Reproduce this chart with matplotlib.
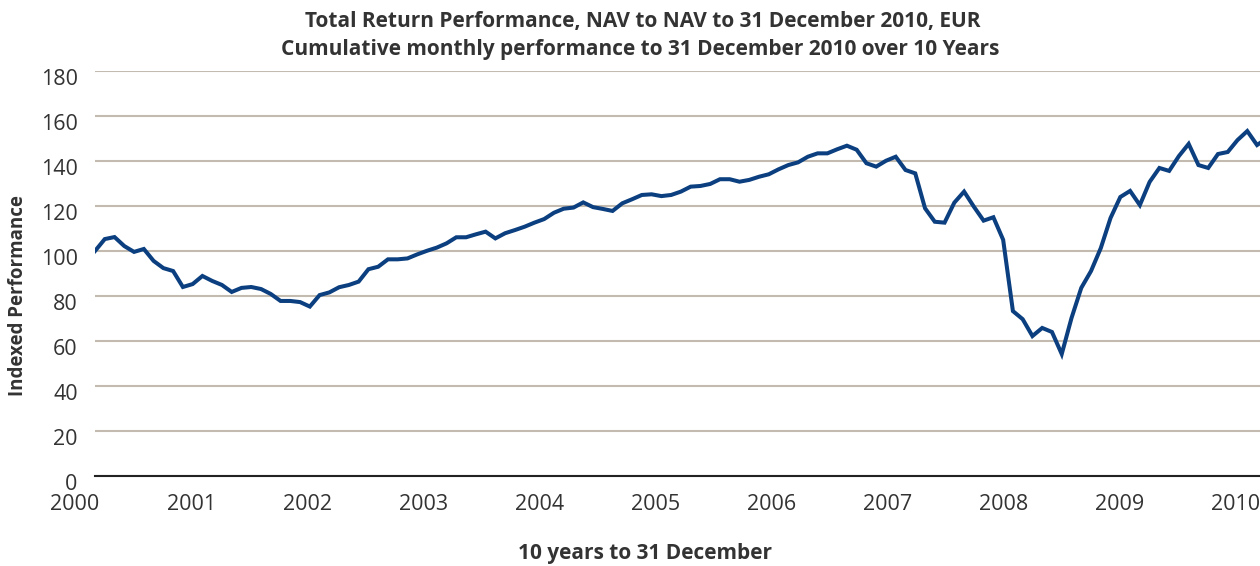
import numpy as np
import matplotlib
matplotlib.use('Agg')
import matplotlib.pyplot as plt
from matplotlib.transforms import ScaledTranslation, blended_transform_factory

plt.rcParams['font.family'] = ['Open Sans', 'DejaVu Sans']

# Monthly indexed NAV performance, Jan 2000 = 100
nav = [
    100.0, 105.3, 106.2, 102.2, 99.6, 100.9, 95.6, 92.4, 91.1, 84.0, 85.3, 88.9,
    86.7, 84.9, 81.8, 83.6, 84.0, 83.1, 80.9, 77.8, 77.8, 77.3, 75.3, 80.4,
    81.6, 83.9, 84.9, 86.4, 91.9, 93.0, 96.3, 96.3, 96.7, 98.5, 100.1, 101.5,
    103.4, 106.1, 106.1, 107.4, 108.6, 105.6, 107.9, 109.3, 110.8, 112.6, 114.2, 117.0,
    118.8, 119.3, 121.6, 119.5, 118.7, 117.8, 121.2, 123.0, 124.9, 125.2, 124.4, 124.9,
    126.4, 128.6, 128.9, 129.8, 131.9, 131.9, 130.8, 131.6, 133.0, 134.1, 136.3, 138.2,
    139.4, 141.9, 143.4, 143.4, 145.2, 146.8, 145.0, 139.0, 137.5, 140.1, 141.9, 136.0,
    134.5, 119.0, 113.0, 112.6, 121.5, 126.4, 119.7, 113.5, 115.0, 105.0, 73.3, 69.7,
    62.2, 65.8, 64.0, 54.2, 70.2, 83.6, 91.1, 101.3, 114.7, 124.0, 126.7, 120.4,
    130.7, 136.9, 135.6, 142.2, 147.6, 138.2, 136.9, 143.1, 144.0, 149.3, 153.3, 147.1,
    150.0,
]
years = ['2000', '2001', '2002', '2003', '2004', '2005',
         '2006', '2007', '2008', '2009', '2010']
y_ticks = [0, 20, 40, 60, 80, 100, 120, 140, 160, 180]

title1 = 'Total Return Performance, NAV to NAV to 31 December 2010, EUR'
title2 = 'Cumulative monthly performance to 31 December 2010 over 10 Years'

LINE = '#0b3f7f'
GRID = '#c4bbb0'
TEXT = '#333333'

W, H = 1260, 566
fig = plt.figure(figsize=(W / 100, H / 100), dpi=100)
ax = fig.add_axes([95 / W, (H - 476) / H, (W - 95) / W, (476 - 71) / H])

x = np.arange(len(nav))
ax.plot(x, nav, color=LINE, linewidth=2.9, solid_joinstyle='miter', zorder=3)

px_per_month = 9.765
ax.set_xlim(0, (W - 95) / px_per_month)
ax.set_ylim(0, 180)

# horizontal gridlines, axis line at zero
ax.set_yticks(y_ticks)
ax.set_yticklabels([str(v) for v in y_ticks])
ax.grid(axis='y', color=GRID, linewidth=1.5, zorder=1)
ax.set_xticks([])
for s in ['top', 'right', 'left']:
    ax.spines[s].set_visible(False)
ax.spines['bottom'].set_color('#222222')
ax.spines['bottom'].set_linewidth(1.5)
ax.tick_params(axis='y', length=0, pad=12.5, labelsize=15.5, labelcolor=TEXT)
shift = ScaledTranslation(0, -6 / 100, fig.dpi_scale_trans)
for lab in ax.get_yticklabels():
    lab.set_transform(lab.get_transform() + shift)

# year labels (centred a little left of the January points)
trans = blended_transform_factory(ax.transData, fig.transFigure)
for k, yr in enumerate(years):
    xpos = (75 + 116.1 * k - 95) / px_per_month
    ax.text(xpos, 1 - 505 / H, yr, transform=trans, ha='center', va='center',
            fontsize=15.5, color=TEXT, clip_on=False)

fig.text(643 / W, 1 - 21 / H, title1, ha='center', va='center', fontsize=15,
         fontweight='bold', color=TEXT)
fig.text(640 / W, 1 - 49 / H, title2, ha='center', va='center', fontsize=15,
         fontweight='bold', color=TEXT)
fig.text(645 / W, 1 - 554 / H, '10 years to 31 December', ha='center', va='center',
         fontsize=15, fontweight='bold', color=TEXT)
fig.text(18 / W, 1 - 296 / H, 'Indexed Performance', ha='center', va='center',
         rotation=90, fontsize=13.5, fontweight='bold', color=TEXT)

fig.savefig('out.png', dpi=100)
